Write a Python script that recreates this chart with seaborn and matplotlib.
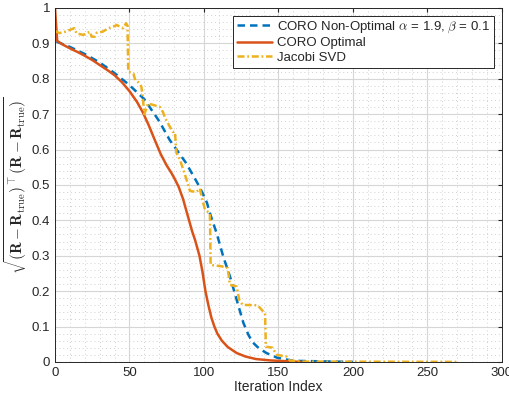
import numpy as np
import pandas as pd
import seaborn as sns
import matplotlib.pyplot as plt
from matplotlib.ticker import MultipleLocator

# CORO non-optimal (alpha=1.9, beta=0.1)
nonopt_x = [1, 10, 20, 30, 40, 50, 60, 70, 77, 88, 97, 102, 104, 108.5, 113, 117.5,
            122, 126.5, 130, 133, 137, 142, 149, 160, 200]
nonopt_y = [0.905, 0.89, 0.87, 0.846, 0.816, 0.782, 0.742, 0.68, 0.627, 0.562, 0.495,
            0.45, 0.42, 0.364, 0.297, 0.241, 0.175, 0.11, 0.075, 0.054, 0.038, 0.025,
            0.012, 0.003, 0.0]

# CORO optimal
opt_x = [0, 1.5, 5, 10, 15, 20, 25, 30, 35, 40, 45, 50, 55, 59, 63, 67, 71, 75,
         78, 80, 83, 86, 88, 90, 92, 94, 97, 99, 101, 103, 105, 107, 109, 112, 116,
         122, 128, 135, 145, 165]
opt_y = [1.0, 0.907, 0.897, 0.886, 0.876, 0.865, 0.853, 0.839, 0.825, 0.81, 0.79,
         0.765, 0.735, 0.705, 0.668, 0.627, 0.587, 0.555, 0.535, 0.52, 0.495, 0.46,
         0.43, 0.40, 0.37, 0.345, 0.30, 0.255, 0.20, 0.16, 0.125, 0.10, 0.08, 0.06,
         0.042, 0.025, 0.015, 0.008, 0.004, 0.0]

# Jacobi SVD
jac_x = [0, 1, 3, 7, 10, 13, 14.5, 19, 21, 23.5, 24.6, 26.8, 28, 32, 36, 39, 41.5,
         43.5, 46, 47.7, 48.7, 49.2, 52.6, 54, 56, 58, 59, 60, 62.5, 66, 70.5, 72.6,
         73.8, 79, 80.5, 81.6, 84, 86, 88.4, 90.6, 95, 97.3, 98.4, 100.7, 104, 104.5,
         112, 116, 117.4, 122, 123.7, 126, 136, 141, 141.6, 146, 148.8, 155.5, 157.7,
         165, 270]
jac_y = [0.935, 0.933, 0.929, 0.933, 0.938, 0.943, 0.928, 0.924, 0.928, 0.933, 0.919,
         0.919, 0.93, 0.933, 0.943, 0.947, 0.952, 0.947, 0.943, 0.957, 0.95, 0.82,
         0.815, 0.795, 0.79, 0.778, 0.745, 0.70, 0.73, 0.726, 0.72, 0.705, 0.69, 0.65,
         0.65, 0.59, 0.57, 0.545, 0.514, 0.483, 0.48, 0.49, 0.467, 0.43, 0.42, 0.274,
         0.27, 0.265, 0.218, 0.213, 0.175, 0.161, 0.16, 0.137, 0.043, 0.04, 0.02,
         0.015, 0.004, 0.001, 0.0]

labels = [r'CORO Non-Optimal $\alpha$ = 1.9, $\beta$ = 0.1', 'CORO Optimal', 'Jacobi SVD']
colors = ['#0072BD', '#D95319', '#EDB120']

sns.set_style("white")
plt.rcParams['font.family'] = ['Liberation Sans', 'DejaVu Sans']
plt.rcParams['mathtext.fontset'] = 'cm'

fig = plt.figure(figsize=(5.09, 3.99), dpi=100)
ax = fig.add_axes([0.108, 0.093, 0.878, 0.887])

sns.lineplot(x=nonopt_x, y=nonopt_y, ax=ax, color=colors[0], lw=1.8, label=labels[0],
             estimator=None, sort=False)
ax.lines[-1].set_dashes([3.0, 2.0])
sns.lineplot(x=opt_x, y=opt_y, ax=ax, color=colors[1], lw=1.8, label=labels[1],
             estimator=None, sort=False)
sns.lineplot(x=jac_x, y=jac_y, ax=ax, color=colors[2], lw=1.8, label=labels[2],
             estimator=None, sort=False)
ax.lines[-1].set_dashes([2.8, 1.1, 0.7, 1.1])

ax.set_xlim(0, 300)
ax.set_ylim(0, 1)
ax.xaxis.set_major_locator(MultipleLocator(50))
ax.xaxis.set_minor_locator(MultipleLocator(10))
ax.yaxis.set_major_locator(MultipleLocator(0.1))
ax.yaxis.set_minor_locator(MultipleLocator(0.02))
ax.set_yticks(np.arange(0, 1.01, 0.1))
ax.set_yticklabels(['0', '0.1', '0.2', '0.3', '0.4', '0.5', '0.6', '0.7', '0.8', '0.9', '1'])

ax.grid(which='major', color='#d6d6d6', lw=0.8, ls='-')
ax.grid(which='minor', color='#d0d0d0', lw=0.7, ls=(0, (1, 3)))
ax.set_axisbelow(True)
for s in ax.spines.values():
    s.set_color('#262626')
    s.set_linewidth(0.7)
ax.tick_params(which='both', direction='in', top=True, right=True, labelsize=9.5,
               colors='#262626', length=3)
ax.tick_params(which='minor', length=0)

ax.set_xlabel('Iteration Index', fontsize=10, color='#262626', labelpad=1)
ax.set_ylabel(r'$\sqrt{(\mathbf{R}-\mathbf{R}_{\rm true})^\top(\mathbf{R}-\mathbf{R}_{\rm true})}$',
              fontsize=11, color='#262626', labelpad=2)

leg = ax.legend(loc='upper right', fontsize=9.5, frameon=True, fancybox=False,
                edgecolor='#262626', framealpha=1, borderpad=0.3, handlelength=2.6,
                handletextpad=0.4, labelspacing=0.15, borderaxespad=0.6)
leg.get_frame().set_linewidth(0.7)

plt.savefig('out.png', dpi=100)
